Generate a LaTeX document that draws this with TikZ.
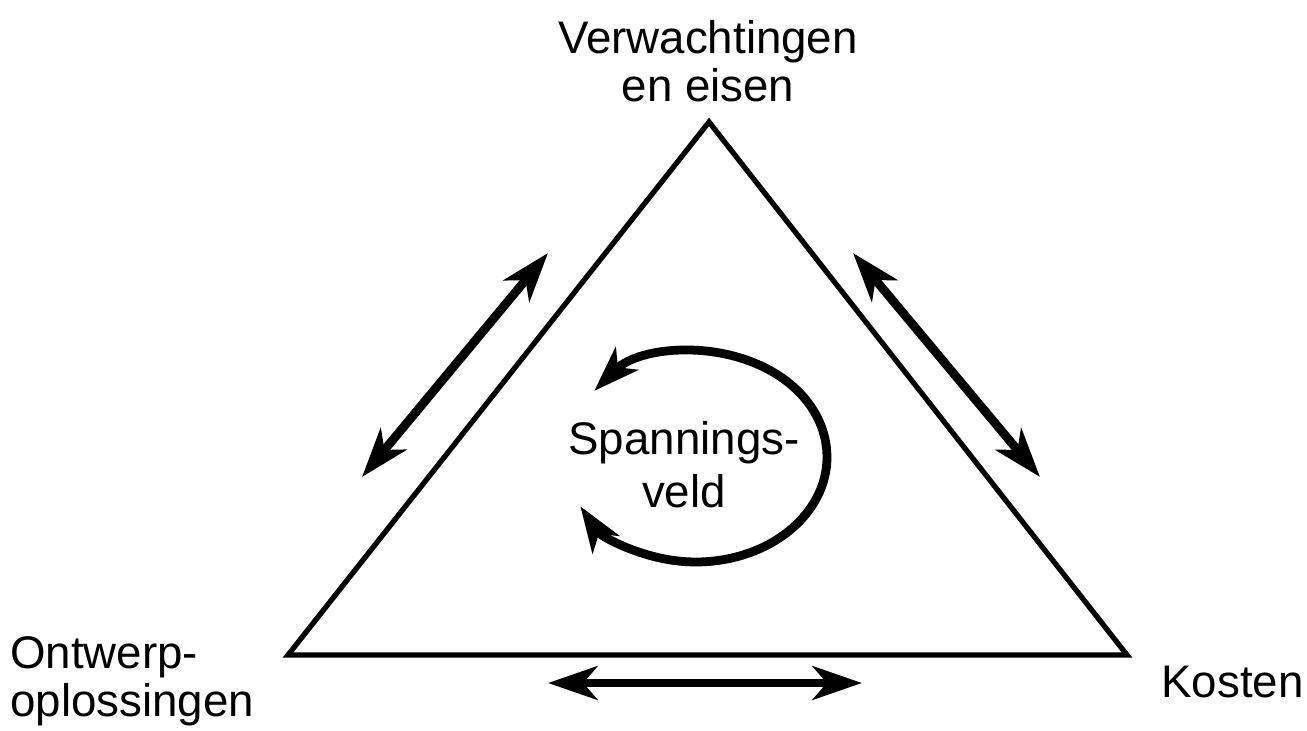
\documentclass[tikz,border=0pt]{standalone}
\usepackage{fontspec}
\setmainfont{Liberation Sans}
\usetikzlibrary{arrows.meta}
\tikzset{
  corner text/.style={font=\fontsize{26}{27.5}\selectfont, inner sep=0pt},
  push tip/.style={Stealth[length=28pt,width=19pt,inset=8pt]},
  push/.style={line width=5pt, {Stealth[length=28pt,width=19pt,inset=8pt]}-{Stealth[length=28pt,width=19pt,inset=8pt]}},
}
\begin{document}
\begin{tikzpicture}[x=0.02cm,y=-0.02cm]
  \useasboundingbox (0,0) rectangle (1307,730);
  % corners of the triangle
  \coordinate (eisen) at (709,122);
  \coordinate (ontwerp) at (288,655);
  \coordinate (kosten) at (1127,655);
  \draw[line width=3pt, line join=miter] (eisen) -- (ontwerp) -- (kosten) -- cycle;
  % labels
  \node[corner text, align=center, anchor=north] (eisentext) at (708,20) {Verwachtingen\\en eisen};
  \node[corner text, align=left, anchor=north west] (ontwerptext) at (10,636) {Ontwerp-\\oplossingen};
  \node[corner text, anchor=north west] (kostentext) at (1161,666) {Kosten};
  \node[corner text, font=\fontsize{26}{30}\selectfont, align=center, anchor=north] (veld) at (684,421) {Spannings-\\veld};
  % arrows along the sides
  \coordinate (la) at (362,477);
  \coordinate (lb) at (548,253);
  \coordinate (ra) at (853,253);
  \coordinate (rb) at (1040,477);
  \coordinate (ba) at (548,683);
  \coordinate (bb) at (862,683);
  \draw[push] (la) -- (lb);
  \draw[push] (ra) -- (rb);
  \draw[push] (ba) -- (bb);
  % the loop round the middle
  \coordinate (mid) at (696,457);
  \draw[line width=5pt, {Stealth[length=26pt,width=18pt,inset=7pt]}-{Stealth[length=26pt,width=18pt,inset=7pt]}]
    ([shift={(141:2.62cm and 2.1cm)}]mid) arc[start angle=141, end angle=-152, x radius=2.62cm, y radius=2.1cm];
\end{tikzpicture}
\end{document}
